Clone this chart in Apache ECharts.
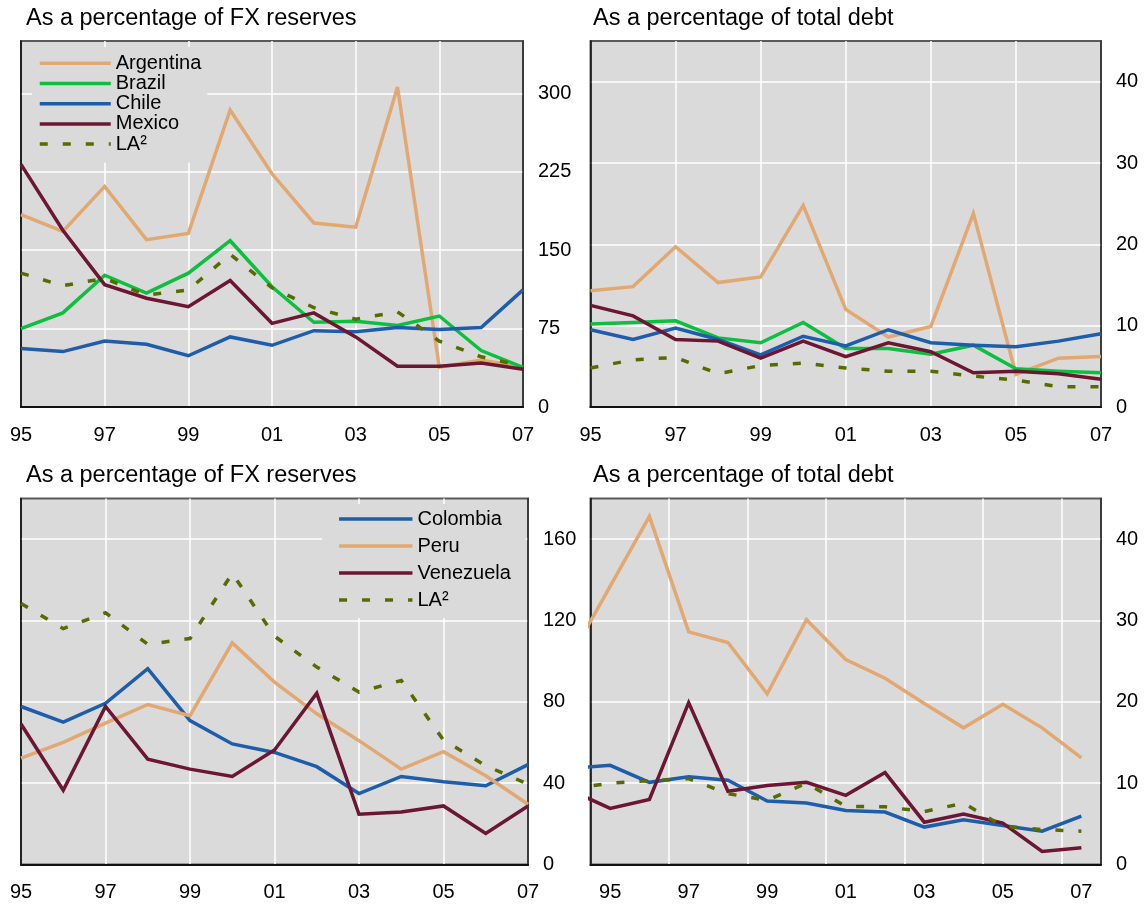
<!DOCTYPE html>
<html><head><meta charset="utf-8">
<script src="https://cdn.jsdelivr.net/npm/echarts@6/dist/echarts.min.js"></script>
<style>html,body{margin:0;padding:0;background:#fff}#c{width:1148px;height:908px}</style>
</head><body><div id="c"></div>
<script>
// ---- data ----
const years = ['95','96','97','98','99','00','01','02','03','04','05','06','07'];
const yearsBR = [1994,1995,1996,1997,1998,1999,2000,2001,2002,2003,2004,2005,2006,2007];

// Top-left: as % of FX reserves
const argFx = [184, 168, 211, 160, 166, 284, 223, 176, 172, 306, 38, 45, 38];
const braFx = [75, 90, 126, 109, 128, 159, 115, 81, 82, 78, 87, 54, 38];
const chlFx = [56, 53, 63, 60, 49, 67, 59, 73, 72, 76, 74, 76, 112];
const mexFx = [232, 169, 117, 104, 96, 121, 80, 90, 67, 39, 39, 42, 36];
const laFx  = [128, 116, 123, 107, 112, 146, 114, 95, 84, 91, 63, 48, 39];

// Top-right: as % of total debt
const argDebt = [14.3, 14.8, 19.7, 15.3, 16.0, 24.8, 12.0, 8.6, 9.9, 23.8, 4.0, 6.0, 6.2];
const braDebt = [10.2, 10.4, 10.6, 8.5, 7.9, 10.4, 7.2, 7.2, 6.5, 7.6, 4.7, 4.4, 4.2];
const chlDebt = [9.5, 8.3, 9.7, 8.3, 6.4, 8.7, 7.5, 9.5, 7.9, 7.6, 7.4, 8.1, 9.0];
const mexDebt = [12.5, 11.2, 8.3, 8.1, 6.0, 8.1, 6.2, 7.9, 6.8, 4.2, 4.4, 4.1, 3.4];
const laDebt  = [4.8, 5.8, 6.1, 4.1, 5.1, 5.4, 4.8, 4.4, 4.4, 3.8, 3.3, 2.5, 2.5];

// Bottom-left: as % of FX reserves
const colFx = [77.7, 70, 79.3, 96.3, 70.8, 59.3, 55.1, 48.1, 34.9, 43.3, 40.7, 38.7, 49.1];
const perFx = [52.3, 60.1, 69.5, 78.7, 73.2, 109, 89.7, 74.1, 60.9, 46.9, 55.5, 43.6, 29.6];
const venFx = [69.1, 36.5, 77.7, 51.8, 46.9, 43.3, 56.3, 84.3, 24.7, 25.8, 28.8, 15.3, 28.8];
const la2Fx = [128.4, 116, 123.8, 108.3, 111.1, 143.2, 112.3, 97.1, 84.8, 90.5, 61.2, 48.6, 39.5];

// Bottom-right: as % of total debt (first value 1994, clipped at the plot edge)
const perDebt = [25.6, 34.2, 42.8, 28.6, 27.3, 21.0, 30.1, 25.2, 22.9, 19.8, 16.8, 19.7, 16.8, 13.1];
const colDebt = [11.8, 12.2, 10.1, 10.8, 10.35, 7.8, 7.55, 6.65, 6.45, 4.6, 5.5, 4.8, 4.1, 5.95];
const venDebt = [9.1, 6.9, 8.0, 19.9, 9.0, 9.7, 10.1, 8.5, 11.3, 5.2, 6.2, 5.1, 1.6, 2.05];
const la2Debt = [9.3, 10.0, 10.3, 10.55, 8.7, 7.9, 10.0, 7.15, 7.1, 6.5, 7.55, 4.7, 4.3, 4.1];

const titles = ['As a percentage of FX reserves', 'As a percentage of total debt'];
const legendTop = ['Argentina', 'Brazil', 'Chile', 'Mexico', 'LA²'];
const legendBottom = ['Colombia', 'Peru', 'Venezuela', 'LA²'];

// ---- style ----
const FONT = 'Liberation Sans, Arial, sans-serif';
const COL = {tan: '#E2A872', green: '#0DBF3E', blue: '#1E5DAA', maroon: '#6B1632', olive: '#566B00'};
const PLOT_BG = '#DADADA';

const grids = [
  {left: 21, top: 41, width: 502, height: 366},
  {left: 590.5, top: 41, width: 510.5, height: 366},
  {left: 21, top: 498.5, width: 507, height: 366},
  {left: 590.5, top: 498.5, width: 510.5, height: 366}
].map(g => Object.assign(g, {show: true, backgroundColor: PLOT_BG, borderColor: '#5a5a5a', borderWidth: 2, containLabel: false}));

function catX(gi, boundaryGap) {
  return {
    type: 'category', gridIndex: gi, data: years, boundaryGap: boundaryGap,
    axisLine: {show: true, lineStyle: {color: '#111', width: 2}},
    axisTick: {show: false},
    axisLabel: {interval: 1, margin: 18, fontSize: 20, color: '#000', fontFamily: FONT},
    splitLine: {show: true, interval: 1, showMinLine: false, showMaxLine: false, lineStyle: {color: '#fff', width: 1.5}}
  };
}
function valY(gi, max, interval) {
  return {
    type: 'value', gridIndex: gi, position: 'right', min: 0, max: max, interval: interval,
    axisLine: {show: true, lineStyle: {color: '#333', width: 1.5}},
    axisTick: {show: false},
    axisLabel: {margin: 15, fontSize: 20, color: '#000', fontFamily: FONT, showMaxLabel: false},
    splitLine: {show: true, showMinLine: false, showMaxLine: false, lineStyle: {color: '#fff', width: 1.5}}
  };
}
function leftEdge(gi) {
  return {type: 'value', gridIndex: gi, position: 'left', min: 0, max: 1,
    axisLine: {show: true, onZero: false, lineStyle: {color: '#111', width: 1.5}},
    axisTick: {show: false}, axisLabel: {show: false}, splitLine: {show: false}};
}

const xAxis = [catX(0, false), catX(1, false), catX(2, false), catX(3, true),
  {type: 'value', gridIndex: 3, min: 1994.5, max: 2007.5, show: false}];
const yAxis = [valY(0, 350, 75), valY(1, 45, 10), valY(2, 180, 40), valY(3, 45, 10),
  leftEdge(0), leftEdge(1), leftEdge(2), leftEdge(3)];

function line(name, data, color, xi, yi, dashed) {
  return {
    type: 'line', name: name, data: data, xAxisIndex: xi, yAxisIndex: yi,
    symbol: 'none', showSymbol: false, silent: true, animation: false,
    itemStyle: {color: color},
    lineStyle: {color: color, width: 3.5, type: dashed ? [8, 15] : 'solid', cap: 'butt', join: 'miter', miterLimit: 4},
    emphasis: {disabled: true}
  };
}
const pairs = vals => yearsBR.map((y, i) => [y, vals[i]]);

const series = [
  line('Argentina', argFx, COL.tan, 0, 0),
  line('Brazil', braFx, COL.green, 0, 0),
  line('Chile', chlFx, COL.blue, 0, 0),
  line('Mexico', mexFx, COL.maroon, 0, 0),
  line('LA²', laFx, COL.olive, 0, 0, true),

  line('Argentina', argDebt, COL.tan, 1, 1),
  line('Brazil', braDebt, COL.green, 1, 1),
  line('Chile', chlDebt, COL.blue, 1, 1),
  line('Mexico', mexDebt, COL.maroon, 1, 1),
  line('LA²', laDebt, COL.olive, 1, 1, true),

  line('Colombia', colFx, COL.blue, 2, 2),
  line('Peru', perFx, COL.tan, 2, 2),
  line('Venezuela', venFx, COL.maroon, 2, 2),
  line('LA²', la2Fx, COL.olive, 2, 2, true),

  line('Colombia', pairs(colDebt), COL.blue, 4, 3),
  line('Peru', pairs(perDebt), COL.tan, 4, 3),
  line('Venezuela', pairs(venDebt), COL.maroon, 4, 3),
  line('LA²', pairs(la2Debt), COL.olive, 4, 3, true)
];

const titleStyle = {fontSize: 23.5, fontWeight: 'normal', color: '#000', fontFamily: FONT, lineHeight: 23.5};
const title = [
  {text: titles[0], left: 26, top: 6.5, padding: 0, textStyle: titleStyle},
  {text: titles[1], left: 593, top: 6.5, padding: 0, textStyle: titleStyle},
  {text: titles[0], left: 26, top: 464, padding: 0, textStyle: titleStyle},
  {text: titles[1], left: 593, top: 464, padding: 0, textStyle: titleStyle}
];

const legendCommon = {
  orient: 'vertical', backgroundColor: PLOT_BG, selectedMode: false,
  itemStyle: {opacity: 0, borderWidth: 0},
  lineStyle: {width: 3.5}
};
const legend = [
  Object.assign({}, legendCommon, {left: 32, top: 47, padding: [6.3, 6, 8.7, 6],
   itemWidth: 71, itemHeight: 20, itemGap: 0.2, data: legendTop,
   textStyle: {fontSize: 20, color: '#000', fontFamily: FONT, lineHeight: 20}}),
  Object.assign({}, legendCommon, {left: 322, top: 504, padding: [1.5, 14.7, 4.5, 15.3],
   itemWidth: 73.4, itemHeight: 27, itemGap: 0, data: legendBottom,
   textStyle: {fontSize: 20, color: '#000', fontFamily: FONT, lineHeight: 27}})
];

const chart = echarts.init(document.getElementById('c'), null, {renderer: 'canvas'});
chart.setOption({animation: false, backgroundColor: '#fff', title, legend, grid: grids, xAxis, yAxis, series});
</script></body></html>
